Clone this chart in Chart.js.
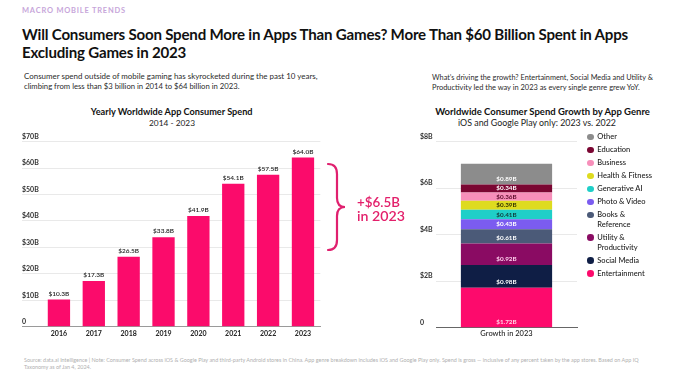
<!DOCTYPE html>
<html><head><meta charset="utf-8">
<script src="https://cdn.jsdelivr.net/npm/chart.js@4.4.1/dist/chart.umd.min.js"></script>
<style>
html,body{margin:0;padding:0;background:#fff;}
#root{position:relative;width:680px;height:375px;overflow:hidden;font-family:Lato,"Noto Sans",sans-serif;color:#1a1a1a;background:#fff;}
.t{position:absolute;white-space:nowrap;line-height:1;}
canvas{position:absolute;}
.dot{position:absolute;border-radius:50%;}
</style></head><body><div id="root">
<svg id="deco" width="680" height="375" style="position:absolute;left:0;top:0;">
  <path d="M328,164 C334,164 337,167 337,174 L337,198 C337,204 340,207 345,207 C340,207 337,210 337,216 L337,240 C337,247 334,250 328,250" fill="none" stroke="#e0206f" stroke-width="2.2" stroke-linecap="round"/>
</svg>
<canvas id="c1" width="340" height="215" style="left:0;top:128px;width:340px;height:215px;"></canvas>
<canvas id="c2" width="190" height="215" style="left:400px;top:128px;width:190px;height:215px;"></canvas>
</div>
<script>
// ---------- data ----------
const years = ['2016','2017','2018','2019','2020','2021','2022','2023'];
const spend = [10.3, 17.3, 26.5, 33.8, 41.9, 54.1, 57.5, 64.0];
const spendTicks = ['0','$10B','$20B','$30B','$40B','$50B','$60B','$70B'];

const growthCategory = ['Growth in 2023'];
const genres = ['Entertainment','Social Media','Utility &\nProductivity','Books &\nReference','Photo & Video','Generative AI','Health & Fitness','Business','Education','Other'];
const growth = [1.72, 0.98, 0.92, 0.61, 0.43, 0.41, 0.39, 0.36, 0.34, 0.89];
const growthTicks = ['0','$2B','$4B','$6B','$8B'];

// ---------- styles ----------
const genreColors = ['#fd0a6c','#0f1e45','#8a0b63','#4b5a78','#7b5cf0','#1fcfc8','#dedb1f','#f78fba','#7a0632','#8c8c8c'];
const genreLabelColors = ['#ffd3e4','#ffffff','#ffd0ee','#ffffff','#ffffff','#0f3c3a','#333300','#5a0a2a','#ffffff','#ffffff'];
const PINK = '#fb0b6b';
const FONT = 'Lato, "Noto Sans", sans-serif';

const root = document.getElementById('root');
function txt(s, o){
  const el = document.createElement('div');
  el.className='t'; el.textContent=s;
  el.style.fontSize=o.size+'px'; el.style.fontWeight=o.weight||400; el.style.color=o.color||'#1a1a1a';
  if(o.ls) el.style.letterSpacing=o.ls+'px';
  root.appendChild(el);
  let size=o.size;
  if(o.w){ const w=el.getBoundingClientRect().width; size=size*o.w/w; el.style.fontSize=size+'px'; }
  const w=el.getBoundingClientRect().width;
  el.style.top=(o.y-0.53*size)+'px';
  el.style.left=(o.align==='center'? o.x-w/2 : o.x)+'px';
  el._size=size;
  return el;
}
// header texts
txt('MACRO MOBILE TRENDS',{x:22,y:10.7,size:7,weight:700,color:'#c7a6da',ls:0.8,w:105});
const t1=txt('Will Consumers Soon Spend More in Apps Than Games? More Than $60 Billion Spent in Apps',{x:22,y:35,size:15,weight:700,color:'#111',w:606,ls:-0.2});
txt('Excluding Games in 2023',{x:22,y:52.5,size:t1._size,weight:700,color:'#111',ls:-0.2});
txt('Consumer spend outside of mobile gaming has skyrocketed during the past 10 years,',{x:24,y:77.7,size:7.5,color:'#2a2a2a',w:294});
txt('climbing from less than $3 billion in 2014 to $64 billion in 2023.',{x:24,y:87.5,size:7.5,color:'#2a2a2a',w:216});
txt('What\u2019s driving the growth? Entertainment, Social Media and Utility &',{x:432,y:77.7,size:7.5,color:'#2a2a2a',w:221});
txt('Productivity led the way in 2023 as every single genre grew YoY.',{x:432,y:87.5,size:7.5,color:'#2a2a2a',w:208});
txt('Yearly Worldwide App Consumer Spend',{x:171.7,y:112,size:8.5,weight:700,color:'#111',w:162,align:'center'});
txt('2014 - 2023',{x:172,y:123.5,size:8,color:'#222',w:46,align:'center'});
txt('Worldwide Consumer Spend Growth by App Genre',{x:542.5,y:112,size:8.5,weight:700,color:'#111',w:215,align:'center'});
txt('iOS and Google Play only: 2023 vs. 2022',{x:537,y:124,size:8,color:'#222',w:158,align:'center'});
txt('+$6.5B',{x:357,y:203,size:13,weight:600,color:'#e3206b',w:43});
txt('in 2023',{x:357,y:216.5,size:13,weight:600,color:'#e3206b',w:48});
const f1=txt('Source: data.ai Intelligence | Note: Consumer Spend across iOS & Google Play and third-party Android stores in China. App genre breakdown includes iOS and Google Play only. Spend is gross \u2014 inclusive of any percent taken by the app stores. Based on App IQ',{x:24,y:360.5,size:5,color:'#b0b0b0',w:616});
txt('Taxonomy as of Jan 4, 2024.',{x:24,y:368,size:f1._size,color:'#b0b0b0'});

// legend (reverse stack order)
(function(){
  let y=137.3;
  for(let i=genres.length-1;i>=0;i--){
    const lines=genres[i].split('\n');
    const d=document.createElement('div'); d.className='dot';
    d.style.width=d.style.height='6.6px'; d.style.background=genreColors[i];
    d.style.left=(590.7-3.3)+'px'; d.style.top=(y-3.3-0.5)+'px'; root.appendChild(d);
    lines.forEach((ln,k)=>{ txt(ln,{x:597.3,y:y+k*9.9,size:7.5,weight:500,color:'#222'}); });
    y += 13 + (lines.length-1)*9.9;
  }
})();

function makeLabels(mode, fmt, colorFn, font, offset){
  return {
    id:'valLabels'+mode,
    afterDatasetsDraw(chart){
      const ctx=chart.ctx;
      chart.data.datasets.forEach((ds,di)=>{
        const meta=chart.getDatasetMeta(di);
        meta.data.forEach((bar,i)=>{
          const v=ds.data[i];
          ctx.save();
          ctx.font=font; ctx.fillStyle=colorFn(di); ctx.textAlign='center'; ctx.textBaseline='middle';
          let y;
          if(mode==='top') y=bar.y-offset;
          else { const c=(bar.y+bar.base)/2; y=Math.max(c, bar.base-offset); }
          ctx.fillText(fmt(v), bar.x, y);
          ctx.restore();
        });
      });
    }
  };
}

Chart.defaults.font.family = FONT;

new Chart(document.getElementById('c1'),{
  type:'bar',
  data:{labels:years, datasets:[{data:spend, backgroundColor:PINK, barPercentage:0.64, categoryPercentage:1}]},
  options:{
    responsive:false, animation:false, devicePixelRatio:1,
    layout:{padding:{left:22,right:19.6,top:13.7,bottom:2.3}},
    plugins:{legend:{display:false},tooltip:{enabled:false}},
    scales:{
      x:{grid:{display:false,drawTicks:false},border:{display:true,color:'#9a9a9a',width:1},
         ticks:{font:{size:7,weight:'bold'},color:'#222',padding:2.5,maxRotation:0,autoSkip:false},
         afterFit(s){s.height=14;}},
      y:{min:0,max:70,
         ticks:{stepSize:10,callback:(v,i)=>spendTicks[i],font:{size:7,weight:'bold'},color:'#333',crossAlign:'far',labelOffset:-5,padding:0},
         grid:{color:(c)=>c.tick && c.tick.value===0?'#9a9a9a':'#e9e9e9',tickLength:19.5,drawTicks:true},
         border:{display:false},
         afterFit(s){s.width=19.5;}}
    }
  },
  plugins:[makeLabels('top',v=>'$'+v.toFixed(1)+'B',()=>'#222','600 6.5px '+FONT,6)]
});

new Chart(document.getElementById('c2'),{
  type:'bar',
  data:{labels:growthCategory, datasets:genres.map((g,i)=>({label:g.replace('\n',' '),data:[growth[i]],backgroundColor:genreColors[i],barPercentage:0.647,categoryPercentage:1,stack:'s'}))},
  options:{
    responsive:false, animation:false, devicePixelRatio:1,
    layout:{padding:{left:20,right:13,top:13.7,bottom:1.3}},
    plugins:{legend:{display:false},tooltip:{enabled:false}},
    scales:{
      x:{stacked:true,grid:{display:false,drawTicks:false},border:{display:true,color:'#666',width:1},
         ticks:{font:{size:7.5,weight:500},color:'#222',padding:1.5,maxRotation:0},
         afterFit(s){s.height=14;}},
      y:{stacked:true,min:0,max:8,
         ticks:{stepSize:2,callback:(v,i)=>growthTicks[i],font:{size:7,weight:'bold'},color:'#333',crossAlign:'far',labelOffset:-5,padding:0},
         grid:{color:(c)=>c.tick && c.tick.value===0?'#666':'#e9e9e9',tickColor:'rgba(0,0,0,0)',tickLength:16,drawTicks:true},
         border:{display:false},
         afterFit(s){s.width=16;}}
    }
  },
  plugins:[makeLabels('stack',v=>'$'+v.toFixed(2)+'B',(di)=>genreLabelColors[di],'700 6.3px '+FONT,5.5)]
});
</script></body></html>
